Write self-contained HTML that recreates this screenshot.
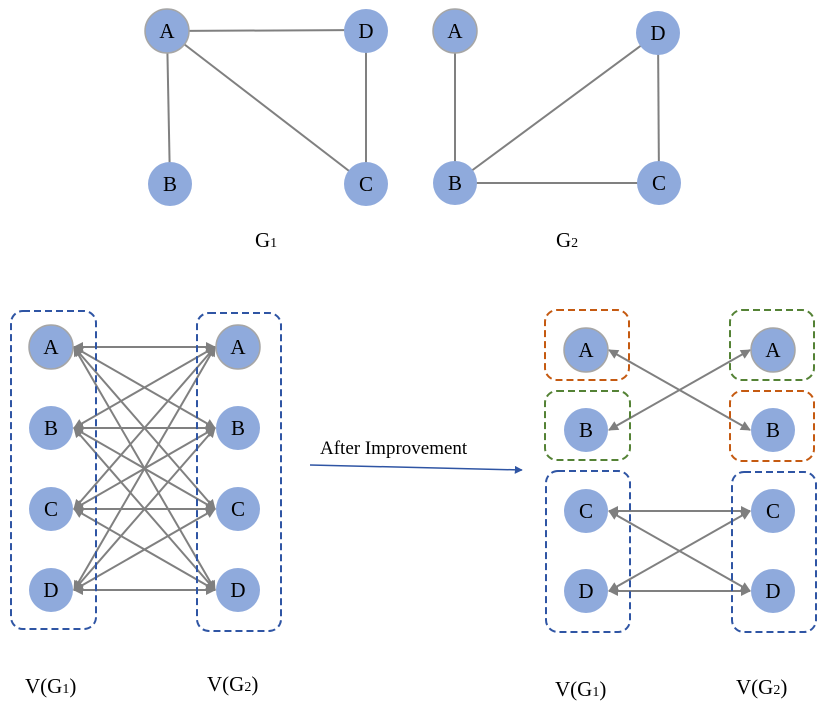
<!DOCTYPE html>
<html><head><meta charset="utf-8"><style>
html,body{margin:0;padding:0;background:#fff}
svg text{font-family:"Liberation Serif",serif;fill:#000}
</style></head><body>
<svg id="s" width="825" height="708" viewBox="0 0 825 708" xmlns="http://www.w3.org/2000/svg">
<defs>
<marker id="ah2" viewBox="0 0 10 10" refX="9" refY="5" markerWidth="11" markerHeight="10" orient="auto-start-reverse" markerUnits="userSpaceOnUse">
<path d="M0,0 L10,5 L0,10 z" fill="#7f7f7f"/>
</marker>
<marker id="bh" viewBox="0 0 10 10" refX="9" refY="5" markerWidth="8" markerHeight="8" orient="auto" markerUnits="userSpaceOnUse">
<path d="M0,0 L10,5 L0,10 z" fill="#2f55a4"/>
</marker>
</defs>
<g stroke="#808080" stroke-width="2">
<line x1="167" y1="31" x2="366" y2="30"/>
<line x1="167" y1="31" x2="170" y2="184"/>
<line x1="167" y1="31" x2="366" y2="184"/>
<line x1="366" y1="31" x2="366" y2="184"/>
<line x1="455" y1="31" x2="455" y2="183"/>
<line x1="455" y1="183" x2="658" y2="33"/>
<line x1="455" y1="183" x2="659" y2="183"/>
<line x1="658" y1="33" x2="659" y2="183"/>
</g>
<g id="edges" stroke="#808080" stroke-width="2" fill="none"></g>
<g fill="none" stroke="#2f55a4" stroke-width="2" stroke-dasharray="7,4">
<rect x="11" y="311" width="85" height="318" rx="12"/>
<rect x="197" y="313" width="84" height="318" rx="12"/>
<rect x="546" y="471" width="84" height="161" rx="12"/>
<rect x="732" y="472" width="84" height="160" rx="12"/>
</g>
<g fill="none" stroke="#c55a11" stroke-width="2" stroke-dasharray="7,4">
<rect x="545" y="310" width="84" height="70" rx="12"/>
<rect x="730" y="391" width="84" height="70" rx="12"/>
</g>
<g fill="none" stroke="#548235" stroke-width="2" stroke-dasharray="7,4">
<rect x="545" y="391" width="85" height="69" rx="12"/>
<rect x="730" y="310" width="84" height="70" rx="12"/>
</g>
<g id="nodes"></g>
<line x1="310" y1="465" x2="522" y2="470" stroke="#2f55a4" stroke-width="1.5" marker-end="url(#bh)"/>
<text x="320" y="454" font-size="19">After Improvement</text>
<text x="255" y="247" font-size="21">G<tspan font-size="14">1</tspan></text>
<text x="556" y="247" font-size="21">G<tspan font-size="14">2</tspan></text>
<text x="25" y="693" font-size="21">V(G<tspan font-size="14">1</tspan>)</text>
<text x="207" y="691" font-size="21">V(G<tspan font-size="14">2</tspan>)</text>
<text x="555" y="696" font-size="21">V(G<tspan font-size="14">1</tspan>)</text>
<text x="736" y="694" font-size="21">V(G<tspan font-size="14">2</tspan>)</text>
</svg>
<script>
var NS="http://www.w3.org/2000/svg";
var E=document.getElementById("edges"),N=document.getElementById("nodes");
function line(x1,y1,x2,y2){
var l1=document.createElementNS(NS,"line");
l1.setAttribute("x1",x1+23);l1.setAttribute("y1",y1);
l1.setAttribute("x2",x2-23);l1.setAttribute("y2",y2);
l1.setAttribute("marker-start","url(#ah2)");l1.setAttribute("marker-end","url(#ah2)");
E.appendChild(l1);}
function node(x,y,t,st){var c=document.createElementNS(NS,"circle");
c.setAttribute("cx",x);c.setAttribute("cy",y);c.setAttribute("r",22);c.setAttribute("fill","#8faadc");
if(st){c.setAttribute("stroke","#a6a6a6");c.setAttribute("stroke-width","1.5");}
N.appendChild(c);var tx=document.createElementNS(NS,"text");
tx.setAttribute("x",x);tx.setAttribute("y",y+7);tx.setAttribute("text-anchor","middle");tx.setAttribute("font-size","21");
tx.textContent=t;N.appendChild(tx);}
var L="ABCD";
var ly=[347,428,509,590],ry=[347,428,509,590];
for(var i=0;i<4;i++)for(var j=0;j<4;j++)line(51,ly[i],238,ry[j]);
var ly2=[350,430,511,591];
line(586,350,773,430);line(586,430,773,350);
line(586,511,773,511);line(586,591,773,591);line(586,511,773,591);line(586,591,773,511);
for(var i=0;i<4;i++){node(51,ly[i],L[i],i==0);node(238,ry[i],L[i],i==0);node(586,ly2[i],L[i],i==0);node(773,ly2[i],L[i],i==0);}
node(167,31,"A",1);node(366,31,"D");node(170,184,"B");node(366,184,"C");
node(455,31,"A",1);node(658,33,"D");node(455,183,"B");node(659,183,"C");
</script>
</body></html>
